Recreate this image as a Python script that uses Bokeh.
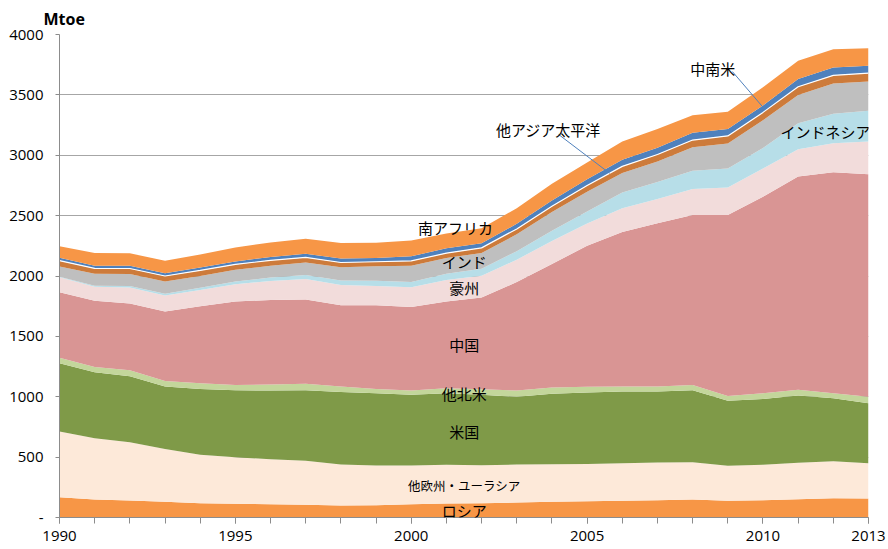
import numpy as np
from bokeh.plotting import figure
from bokeh.models import ColumnDataSource, FixedTicker, Label, Range1d
from bokeh.embed import file_html
from bokeh.resources import INLINE

# ---------------- data (Mtoe) ----------------
years = list(range(1990, 2014))
russia        = [168,149,141,130,118,113,110,105, 99,102,110,116,118,124,130,135,138,143,149,138,143,152,160,157]
other_eurasia = [544,507,482,438,401,386,373,364,339,328,320,320,315,315,311,309,312,312,309,290,293,301,306,293]
usa           = [565,547,547,516,546,555,568,585,602,599,586,593,583,561,584,591,593,588,596,538,546,557,522,496]
other_na      = [ 47, 44, 49, 47, 47, 44, 50, 53, 45, 36, 35, 42, 46, 51, 51, 47, 41, 41, 44, 41, 47, 47, 41, 53]
china         = [541,547,553,574,637,690,701,698,673,693,692,717,759,899,1024,1168,1281,1352,1408,1499,1628,1766,1830,1843]
australia     = [125,118,132,133,136,143,157,171,167,160,163,179,182,185,190,185,196,202,215,226,234,226,240,271]
indonesia     = [  4,  8, 13, 14, 18, 23, 28, 32, 37, 42, 44, 52, 58, 70, 85,100,130,140,150,158,170,215,245,255]
india         = [ 85, 98,100,103, 98, 97, 98,103,110,120,135,130,130,140,155,162,162,170,195,208,228,235,250,242]
other_ap      = [ 48, 45, 45, 45, 45, 45, 45, 43, 40, 38, 40, 40, 42, 45, 48, 52, 55, 58, 60, 62, 66, 68, 68, 70]
latam         = [ 25, 22, 22, 22, 24, 25, 28, 30, 32, 32, 38, 40, 38, 42, 48, 52, 55, 57, 60, 57, 58, 65, 65, 62]
s_africa      = [ 94,105,104,105,108,116,119,124,129,125,130,122,124,130,137,138,150,155,146,143,150,150,150,144]

series_keys   = ["russia","other_eurasia","usa","other_na","china","australia",
                 "indonesia","india","other_ap","latam","s_africa"]
series_names  = ["ロシア","他欧州・ユーラシア","米国","他北米","中国","豪州",
                 "インドネシア","インド","他アジア太平洋","中南米","南アフリカ"]
series_colors = ["#F79646","#FDE9D9","#7F9A48","#C3D69B","#D99594","#F2DCDB",
                 "#B7DEE8","#BFBFBF","#CD7B3B","#4F81BD","#F79646"]

y_ticks = [0,500,1000,1500,2000,2500,3000,3500,4000]
y_tick_labels = {0: "-"}
x_label_years = [1990,1995,2000,2005,2010,2013]
unit_label = "Mtoe"

# ---------------- figure ----------------
src = ColumnDataSource(dict(year=years, russia=russia, other_eurasia=other_eurasia, usa=usa,
                            other_na=other_na, china=china, australia=australia,
                            indonesia=indonesia, india=india, other_ap=other_ap,
                            latam=latam, s_africa=s_africa))

p = figure(frame_width=809, frame_height=483,
           min_border_left=59, min_border_right=19, min_border_top=33, min_border_bottom=30,
           x_range=Range1d(1990, 2013), y_range=Range1d(0, 4000),
           output_backend="svg", toolbar_location=None)
p.outline_line_color = None
p.background_fill_color = "white"

p.title.text = unit_label
p.title.align = "left"
p.title.offset = -16
p.title.standoff = 10
p.title.text_font = "Open Sans"
p.title.text_font_style = "bold"
p.title.text_font_size = "16px"
p.title.text_color = "#000000"

p.varea_stack(stackers=series_keys, x="year", color=series_colors, source=src)

# thin white separation line on top of "other Asia Pacific"
cum = np.cumsum(np.array([src.data[k] for k in series_keys], dtype=float), axis=0)
p.line(years, cum[series_keys.index("other_ap")], line_color="white", line_width=1.2)

# axes
p.xaxis.ticker = FixedTicker(ticks=x_label_years, minor_ticks=years)
p.xaxis.major_tick_out = 6
p.xaxis.major_tick_in = 0
p.xaxis.minor_tick_out = 6
p.xaxis.minor_tick_in = 0
p.xaxis.major_label_standoff = 7
p.yaxis.ticker = FixedTicker(ticks=y_ticks)
p.yaxis.major_label_overrides = y_tick_labels
p.yaxis.major_tick_out = 4
p.yaxis.major_tick_in = 0
p.yaxis.minor_tick_out = 0
p.yaxis.minor_tick_in = 0
p.yaxis.major_label_standoff = 12
for ax in (p.xaxis, p.yaxis):
    ax.axis_line_color = "#8C8C8C"
    ax.major_tick_line_color = "#8C8C8C"
    ax.minor_tick_line_color = "#8C8C8C"
    ax.major_label_text_font = "Open Sans"
    ax.major_label_text_font_size = "15px"
    ax.major_label_text_color = "#000000"

p.xgrid.grid_line_color = None
p.ygrid.grid_line_color = "#A6A6A6"
p.ygrid.ticker = FixedTicker(ticks=y_ticks)

# series labels (annotation positions)
jp = "Noto Sans CJK JP"
label_specs = [
    ("南アフリカ", 2001.26, 2402, "15px"),
    ("インド", 2001.51, 2120, "15px"),
    ("豪州", 2001.51, 1905, "15px"),
    ("中国", 2001.51, 1429, "15px"),
    ("他北米", 2001.51, 1023, "15px"),
    ("米国", 2001.51, 716, "15px"),
    ("他欧州・ユーラシア", 2001.51, 269, "12.5px"),
    ("ロシア", 2001.51, 54, "15px"),
    ("他アジア太平洋", 2003.9, 3217, "15px"),
    ("中南米", 2008.57, 3718, "15px"),
    ("インドネシア", 2011.78, 3193, "15px"),
]
for txt, lx, ly, fs in label_specs:
    p.add_layout(Label(x=lx, y=ly, text=txt, text_font=jp, text_font_size=fs,
                       text_align="center", text_baseline="middle", text_color="#000000"))

# leader lines
ap_year = 2005.64
ap_end = float(np.interp(ap_year, years, cum[series_keys.index("other_ap")]))
la_year = 2009.99
la_end = float(np.interp(la_year, years, cum[series_keys.index("latam")])) - 10
p.segment(x0=[2004.19, 2009.13], y0=[3172, 3693], x1=[ap_year, la_year], y1=[ap_end, la_end],
          line_color="#4F81BD", line_width=1)

open("out.html", "w").write(file_html(p, INLINE))
